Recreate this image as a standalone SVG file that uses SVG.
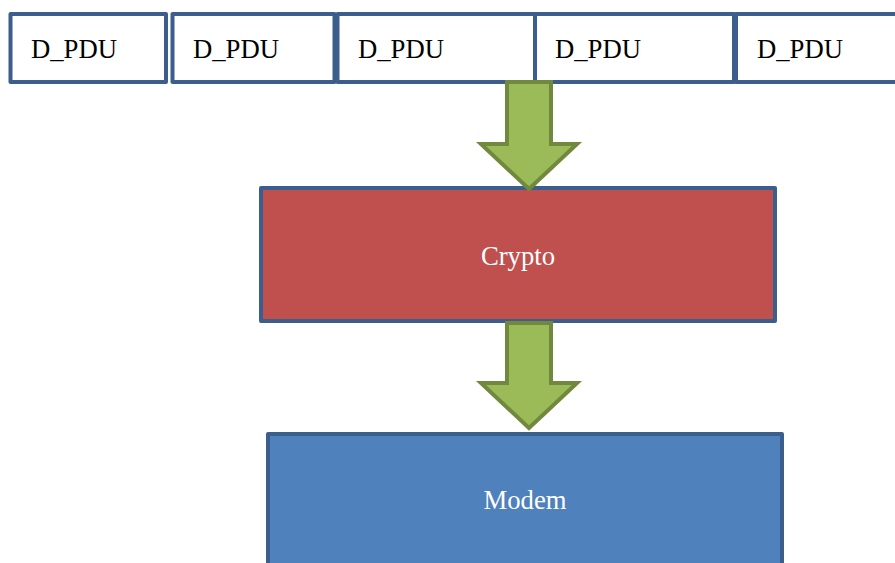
<svg xmlns="http://www.w3.org/2000/svg" width="895" height="563" viewBox="0 0 895 563">
<style>
.pdu{fill:#FFFFFF;stroke:#3B5E8C;stroke-width:4;stroke-linejoin:round}
.arrow{fill:#9BBB59;stroke:#71893F;stroke-width:4;stroke-linejoin:miter}
</style>
<rect width="895" height="563" fill="#FFFFFF"/>
<g id="pdu1"><rect class="pdu" x="10.5" y="14" width="155.5" height="68"/><text x="31" y="57.5" font-family="'Liberation Serif', 'Times New Roman', serif" font-size="26.7" fill="#000000">D_PDU</text></g>
<g id="pdu2"><rect class="pdu" x="172.5" y="14" width="162" height="68"/><text x="193" y="57.5" font-family="'Liberation Serif', 'Times New Roman', serif" font-size="26.7" fill="#000000">D_PDU</text></g>
<g id="pdu3"><rect class="pdu" x="337.5" y="14" width="197.5" height="68"/><text x="358" y="57.5" font-family="'Liberation Serif', 'Times New Roman', serif" font-size="26.7" fill="#000000">D_PDU</text></g>
<g id="pdu4"><rect class="pdu" x="535" y="14" width="199" height="68"/><text x="555" y="57.5" font-family="'Liberation Serif', 'Times New Roman', serif" font-size="26.7" fill="#000000">D_PDU</text></g>
<g id="pdu5"><rect class="pdu" x="736" y="14" width="170" height="68"/><text x="757" y="57.5" font-family="'Liberation Serif', 'Times New Roman', serif" font-size="26.7" fill="#000000">D_PDU</text></g>
<g id="crypto"><rect x="261" y="188" width="514" height="133" fill="#C0504D" stroke="#3B5E8C" stroke-width="4" stroke-linejoin="round"/><text x="518" y="265" text-anchor="middle" font-family="'Liberation Serif', 'Times New Roman', serif" font-size="26.7" fill="#FFFFFF">Crypto</text></g>
<g id="modem"><rect x="268" y="434" width="514" height="170" fill="#4F81BD" stroke="#3B5E8C" stroke-width="4" stroke-linejoin="round"/><text x="525" y="509" text-anchor="middle" font-family="'Liberation Serif', 'Times New Roman', serif" font-size="26.7" fill="#FFFFFF">Modem</text></g>
<g id="connectors">
<path class="arrow" d="M507,82 H551 V144 H577 L529,189 L481,144 H507 Z"/>
<path class="arrow" d="M507,323 H551 V383 H577 L529,428 L481,383 H507 Z"/>
</g>
</svg>
